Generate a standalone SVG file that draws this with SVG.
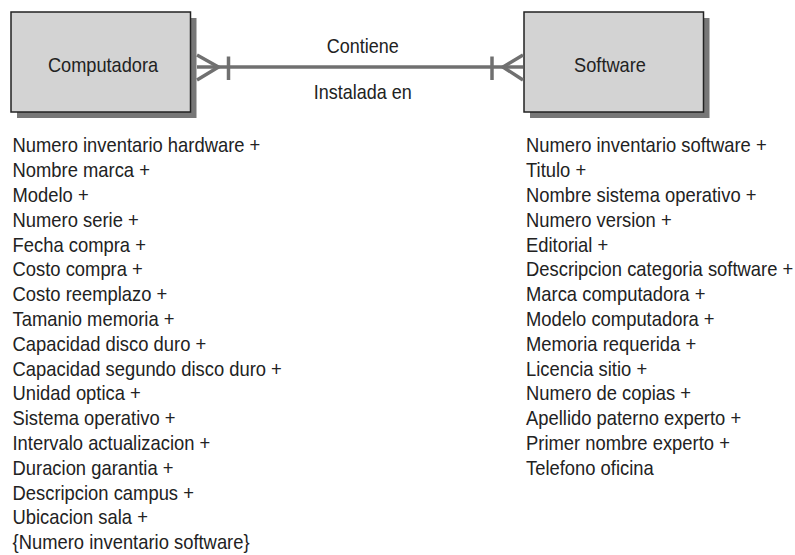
<svg xmlns="http://www.w3.org/2000/svg" width="795" height="555" viewBox="0 0 795 555">
<style>
.t{font-family:"Liberation Sans",Arial,sans-serif;font-size:20px;fill:#222}
.box{fill:#d3d3d3;stroke:#222;stroke-width:1.5}
.shadow{fill:#777}
.conn{stroke:#707070;stroke-width:3.5;fill:none}
</style>
<rect width="795" height="555" fill="#fff"/>
<g id="computadora">
<rect class="shadow" x="17" y="18" width="179.5" height="100"/>
<rect class="box" x="11" y="12" width="179.5" height="100"/>
<text class="t" text-anchor="middle" transform="translate(103,71.5) scale(0.91,1)">Computadora</text>
</g>
<g id="software">
<rect class="shadow" x="530" y="18" width="179.5" height="100"/>
<rect class="box" x="524" y="12" width="179.5" height="100"/>
<text class="t" text-anchor="middle" transform="translate(610,71.5) scale(0.91,1)">Software</text>
</g>
<g id="connectors">
<line class="conn" x1="197" y1="67" x2="523" y2="67"/>
<polyline class="conn" points="197,55 218.5,67 197,80"/>
<line class="conn" x1="228.5" y1="56.5" x2="228.5" y2="80"/>
<polyline class="conn" points="523,55 503,67 523,80"/>
<line class="conn" x1="492" y1="56.5" x2="492" y2="80"/>
<text class="t" text-anchor="middle" transform="translate(362.7,52.7) scale(0.9,1)">Contiene</text>
<text class="t" text-anchor="middle" transform="translate(362.7,99) scale(0.9,1)">Instalada en</text>
</g>
<g id="computadora-atributos" transform="translate(12.5,0) scale(0.92,1)">
<text class="t" x="0" y="152.5">Numero inventario hardware +</text>
<text class="t" x="0" y="177.3">Nombre marca +</text>
<text class="t" x="0" y="202.1">Modelo +</text>
<text class="t" x="0" y="226.9">Numero serie +</text>
<text class="t" x="0" y="251.7">Fecha compra +</text>
<text class="t" x="0" y="276.5">Costo compra +</text>
<text class="t" x="0" y="301.3">Costo reemplazo +</text>
<text class="t" x="0" y="326.1">Tamanio memoria +</text>
<text class="t" x="0" y="350.9">Capacidad disco duro +</text>
<text class="t" x="0" y="375.7">Capacidad segundo disco duro +</text>
<text class="t" x="0" y="400.5">Unidad optica +</text>
<text class="t" x="0" y="425.3">Sistema operativo +</text>
<text class="t" x="0" y="450.1">Intervalo actualizacion +</text>
<text class="t" x="0" y="474.9">Duracion garantia +</text>
<text class="t" x="0" y="499.7">Descripcion campus +</text>
<text class="t" x="0" y="524.5">Ubicacion sala +</text>
<text class="t" x="0" y="549.3">{Numero inventario software}</text>
</g>
<g id="software-atributos" transform="translate(526,0) scale(0.92,1)">
<text class="t" x="0" y="152.5">Numero inventario software +</text>
<text class="t" x="0" y="177.3">Titulo +</text>
<text class="t" x="0" y="202.1">Nombre sistema operativo +</text>
<text class="t" x="0" y="226.9">Numero version +</text>
<text class="t" x="0" y="251.7">Editorial +</text>
<text class="t" x="0" y="276.5">Descripcion categoria software +</text>
<text class="t" x="0" y="301.3">Marca computadora +</text>
<text class="t" x="0" y="326.1">Modelo computadora +</text>
<text class="t" x="0" y="350.9">Memoria requerida +</text>
<text class="t" x="0" y="375.7">Licencia sitio  +</text>
<text class="t" x="0" y="400.5">Numero de copias +</text>
<text class="t" x="0" y="425.3">Apellido paterno experto +</text>
<text class="t" x="0" y="450.1">Primer nombre experto +</text>
<text class="t" x="0" y="474.9">Telefono oficina</text>
</g>
</svg>
